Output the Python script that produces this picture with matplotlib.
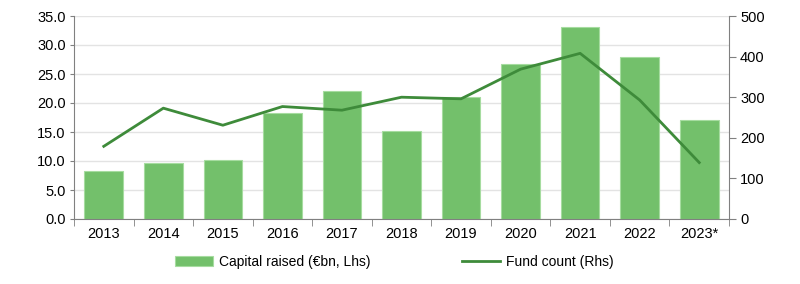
import numpy as np
import matplotlib
matplotlib.use("Agg")
import matplotlib.pyplot as plt

plt.rcParams['font.family'] = ['Liberation Sans', 'DejaVu Sans']

years = ["2013", "2014", "2015", "2016", "2017", "2018", "2019", "2020", "2021", "2022", "2023*"]
capital = [8.3, 9.7, 10.1, 18.2, 22.0, 15.2, 21.1, 26.8, 33.1, 27.9, 17.0]
funds = [179, 273, 231, 277, 268, 300, 296, 369, 408, 293, 139]

bar_col = "#73c06b"
line_col = "#3e8b3a"
axis_col = "#808080"

fig = plt.figure(figsize=(8, 2.84), dpi=100)
ax = fig.add_axes([74 / 800, 1 - 219 / 284, (729 - 74) / 800, (219 - 16) / 284])
x = np.arange(len(years))
bars = ax.bar(x, capital, width=0.65, color=bar_col, edgecolor="#a6dca0", linewidth=0.8,
              label="Capital raised (\u20acbn, Lhs)", zorder=2)
ax.set_xlim(-0.5, len(years) - 0.5)
ax.set_ylim(0, 35)
ax.set_yticks(np.arange(0, 36, 5))
ax.set_yticklabels([f"{v:.1f}" for v in np.arange(0, 36, 5)])
ax.grid(axis="y", color="#e3e3e3", lw=1, zorder=0)
ax.set_axisbelow(True)

ax.set_xticks(x)
ax.set_xticklabels(years)
ax.set_xticks(np.arange(-0.5, len(years), 1), minor=True)
ax.tick_params(axis="x", which="major", length=0, pad=6, labelsize=10.5)
ax.tick_params(axis="x", which="minor", length=5, color=axis_col, direction="out")
ax.tick_params(axis="y", length=3, color=axis_col, labelsize=10.5, pad=3)

for s in ["top", "right"]:
    ax.spines[s].set_visible(False)
ax.spines["left"].set_color(axis_col)
ax.spines["bottom"].set_color(axis_col)

ax2 = ax.twinx()
line, = ax2.plot(x, funds, color=line_col, lw=2, label="Fund count (Rhs)", zorder=3)
ax2.set_ylim(0, 500)
ax2.set_yticks(np.arange(0, 501, 100))
ax2.tick_params(axis="y", length=5, color=axis_col, labelsize=10.5, pad=3)
for s in ["top", "left", "bottom"]:
    ax2.spines[s].set_visible(False)
ax2.spines["right"].set_color(axis_col)

leg_y = 1 - 262 / 284
kw = dict(loc="center left", frameon=False, fontsize=10, handlelength=2.75,
          handleheight=0.8, handletextpad=0.4, borderpad=0, borderaxespad=0)
fig.legend([bars], [bars.get_label()], bbox_to_anchor=(175 / 800, leg_y), **kw)
fig.legend([line], [line.get_label()], bbox_to_anchor=(462 / 800, leg_y), **kw)

fig.savefig("out.png", dpi=100)
